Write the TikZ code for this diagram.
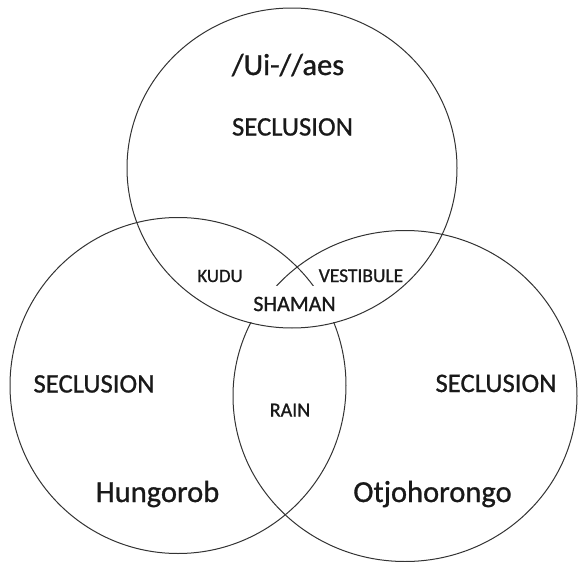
\documentclass[tikz,border=0pt]{standalone}
\usepackage{fontspec}
\setmainfont{Carlito}[FakeBold=0.9]

\begin{document}
\begin{tikzpicture}[
  x=1pt, y=-1pt,
  ring/.style={draw=black!80, line width=1pt},
  region/.style={font=\fontsize{26.7}{30}\selectfont, anchor=base},
  place/.style={font=\fontsize{30.5}{36}\selectfont, anchor=base},
  overlap/.style={font=\fontsize{19.5}{23}\selectfont, anchor=base},
  every node/.style={inner sep=0pt, text=black!90}]

\useasboundingbox (0,0) rectangle (579,562);

% Lower circles first, the centre label masks them
\draw [ring] (178,385.5) ellipse [x radius=168pt, y radius=168pt];
\draw [ring] (405,396) ellipse [x radius=172pt, y radius=165.5pt];

\node[overlap, font=\fontsize{22}{26}\selectfont, anchor=center, fill=white,
  minimum width=90pt, minimum height=36pt] (shaman) at (294.5,304) {SHAMAN};

% Top circle drawn over the patch
\draw [ring] (292,168) ellipse [x radius=165pt, y radius=160pt];

% Labels of the three circles
\node[place] (uiAes) at (288,75) {/Ui-//aes};
\node[region] (seclusionTop) at (292.5,135.5) {SECLUSION};
\node[region] (seclusionLeft) at (94,392.5) {SECLUSION};
\node[region] (seclusionRight) at (496,392) {SECLUSION};
\node[place] (hungorob) at (157.5,502) {Hungorob};
\node[place] (otjohorongo) at (432.5,502) {Otjohorongo};

% Labels of the overlaps
\node[overlap, font=\fontsize{18.8}{22}\selectfont] (kudu) at (220,282) {KUDU};
\node[overlap] (vestibule) at (361,282) {VESTIBULE};
\node[overlap, font=\fontsize{20}{24}\selectfont] (rain) at (290,416.5) {RAIN};
\end{tikzpicture}
\end{document}
